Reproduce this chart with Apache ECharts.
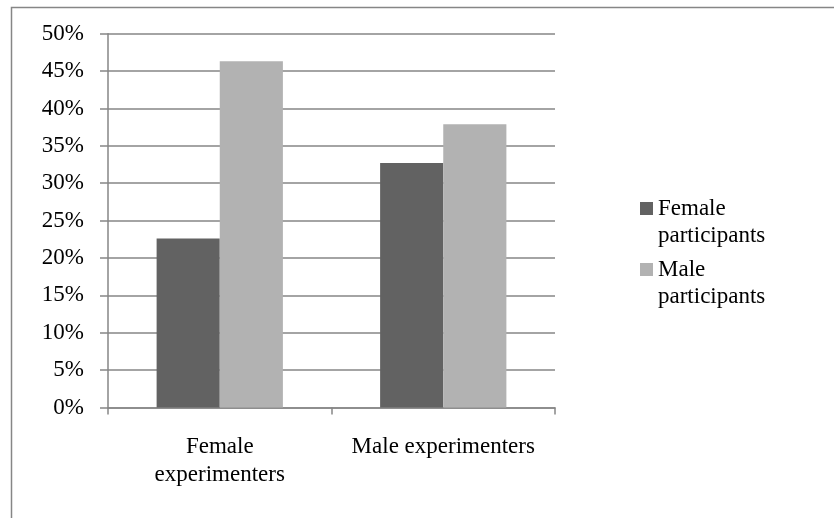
<!DOCTYPE html>
<html>
<head>
<meta charset="utf-8">
<script src="https://cdn.jsdelivr.net/npm/echarts@6/dist/echarts.min.js"></script>
<style>
  html, body { margin: 0; padding: 0; background: #fff; }
  #chart { width: 834px; height: 518px; }
</style>
</head>
<body>
<div id="chart"></div>
<script>
// Experimenter groups on the x axis
const categories = ['Female\nexperimenters', 'Male experimenters'];
// Share (%) per participant gender
const femaleParticipants = [22.6, 32.7];
const maleParticipants = [46.3, 37.9];
const seriesNames = ['Female\nparticipants', 'Male\nparticipants'];
// Y axis range and step (%)
const yMin = 0, yMax = 50, yStep = 5;

const FONT = '"Liberation Serif", "Times New Roman", serif';
const FS = 23;
const AXIS = '#868686';
const LH = 27;

const chart = echarts.init(document.getElementById('chart'), null, { renderer: 'canvas' });

// One legend per series; a leading blank line keeps the swatch beside the first text line
function legendFor(name, top) {
  return {
    orient: 'vertical',
    left: 635,
    top: top,
    padding: 5,
    data: [name],
    itemWidth: 13,
    itemHeight: 13,
    icon: 'rect',
    selectedMode: false,
    formatter: n => '\n' + n,
    textStyle: {
      fontFamily: FONT,
      fontSize: FS,
      color: '#000',
      lineHeight: LH
    }
  };
}

chart.setOption({
  animation: false,
  backgroundColor: '#fff',
  graphic: [{
    type: 'rect',
    left: 9, top: 5,
    shape: { width: 900, height: 600 },
    style: { fill: 'none', stroke: AXIS, lineWidth: 1.5 },
    silent: true
  }],
  grid: { left: 108, right: 279, top: 33.7, bottom: 110.5, containLabel: false },
  legend: [legendFor(seriesNames[0], 163), legendFor(seriesNames[1], 224)],
  xAxis: {
    type: 'category',
    data: categories,
    boundaryGap: true,
    axisLine: { lineStyle: { color: AXIS, width: 1.5 } },
    axisTick: { show: true, alignWithLabel: false, interval: 0, length: 7, lineStyle: { color: AXIS, width: 1.5 } },
    axisLabel: {
      interval: 0, hideOverlap: false,
      fontFamily: FONT, fontSize: FS, color: '#000',
      lineHeight: 28, margin: 25, align: 'center'
    }
  },
  yAxis: {
    type: 'value',
    min: yMin, max: yMax, interval: yStep,
    axisLine: { show: true, lineStyle: { color: AXIS, width: 1.5 } },
    axisTick: { show: true, length: 8, lineStyle: { color: AXIS, width: 1.5 } },
    splitLine: { lineStyle: { color: AXIS, width: 1.5 } },
    axisLabel: {
      fontFamily: FONT, fontSize: FS, color: '#000', margin: 24,
      formatter: '{value}%'
    }
  },
  series: [
    {
      name: seriesNames[0], type: 'bar', data: femaleParticipants,
      itemStyle: { color: '#626262' },
      barGap: '0%', barCategoryGap: '43.5%'
    },
    {
      name: seriesNames[1], type: 'bar', data: maleParticipants,
      itemStyle: { color: '#b2b2b2' },
      barGap: '0%', barCategoryGap: '43.5%'
    }
  ]
});
</script>
</body>
</html>
